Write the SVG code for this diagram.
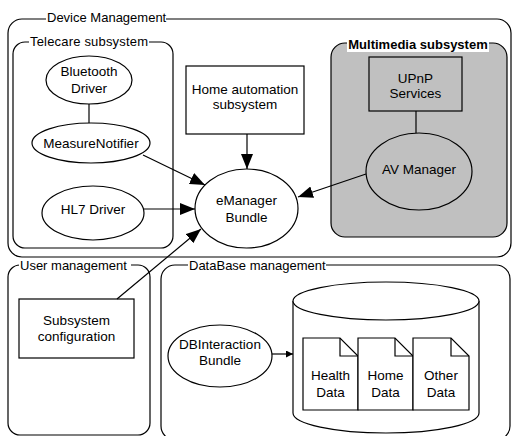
<svg xmlns="http://www.w3.org/2000/svg" width="513" height="436" viewBox="0 0 513 436">
<style>
text{font-family:"Liberation Sans",Arial,sans-serif;font-size:13.5px;fill:#000}
.t{font-size:13px}
.c{text-anchor:middle}
.b{font-weight:bold}
.s{fill:none;stroke:#000;stroke-width:1.2}
.w{fill:#fff;stroke:#000;stroke-width:1.2}
.g{fill:#c0c0c0;stroke:#000;stroke-width:1.2}
.bg{fill:#fff;stroke:none}
.ln{stroke:#000;stroke-width:1.2;fill:none}
</style>
<defs>
<marker id="ah" markerUnits="userSpaceOnUse" markerWidth="16" markerHeight="12" refX="15" refY="6" orient="auto">
<path d="M0,0 L15,6 L0,12 Z" fill="#000"/>
</marker>
<marker id="sm" markerUnits="userSpaceOnUse" markerWidth="8" markerHeight="8" refX="7" refY="3.5" orient="auto">
<path d="M0,0 L7,3.5 L0,7 Z" fill="#000"/>
</marker>
</defs>

<g id="device-management">
<rect class="s" x="8" y="19" width="503" height="238" rx="14"/>
<rect class="bg" x="46" y="11" width="120" height="15"/>
<text class="t" x="47" y="22">Device Management</text>
</g>

<g id="telecare-subsystem">
<rect class="s" x="13" y="42" width="160" height="206" rx="12"/>
<rect class="bg" x="29" y="35" width="120" height="14"/>
<text class="t" x="30" y="46" textLength="118">Telecare subsystem</text>
</g>

<g id="multimedia-subsystem">
<rect class="g" x="331" y="43" width="176" height="194" rx="14"/>
<rect class="bg" x="347" y="37" width="142" height="15"/>
<text class="t b" x="418" y="49" text-anchor="middle">Multimedia subsystem</text>
</g>

<g id="user-management">
<rect class="s" x="8" y="265" width="142" height="170" rx="12"/>
<rect class="bg" x="19" y="259" width="112" height="13"/>
<text class="t" x="20" y="270">User management</text>
</g>

<g id="database-management">
<rect class="s" x="161" y="265" width="349" height="175" rx="14"/>
<rect class="bg" x="188" y="259" width="138" height="13"/>
<text class="t" x="189" y="270">DataBase management</text>
</g>

<g id="bluetooth-driver">
<ellipse class="w" cx="89" cy="80" rx="43" ry="24"/>
<text class="c" x="89" y="76">Bluetooth</text>
<text class="c" x="89" y="93">Driver</text>
</g>

<g id="measure-notifier">
<ellipse class="w" cx="91" cy="143" rx="59" ry="20"/>
<text class="c" x="91" y="148">MeasureNotifier</text>
</g>

<g id="hl7-driver">
<ellipse class="w" cx="93" cy="213" rx="51" ry="27"/>
<text class="c" x="93" y="214">HL7 Driver</text>
</g>

<g id="home-automation">
<rect class="w" x="186" y="66" width="118" height="68"/>
<text class="c" x="245" y="94">Home automation</text>
<text class="c" x="245" y="109">subsystem</text>
</g>

<g id="emanager-bundle">
<ellipse class="w" cx="246.5" cy="208.5" rx="51.5" ry="39.5"/>
<text class="c" x="246.5" y="205">eManager</text>
<text class="c" x="246.5" y="222">Bundle</text>
</g>

<g id="upnp-services">
<rect class="g" x="369" y="57" width="93" height="54"/>
<text class="c" x="415.5" y="83">UPnP</text>
<text class="c" x="415.5" y="98">Services</text>
</g>

<g id="av-manager">
<ellipse class="g" cx="419" cy="171.5" rx="53" ry="38.5"/>
<text class="c" x="419" y="174">AV Manager</text>
</g>

<g id="subsystem-configuration">
<rect class="w" x="19" y="299" width="115" height="59"/>
<text class="c" x="76.5" y="325">Subsystem</text>
<text class="c" x="76.5" y="341">configuration</text>
</g>

<g id="dbinteraction-bundle">
<ellipse class="w" cx="220" cy="356" rx="52" ry="31"/>
<text class="c" x="220" y="349">DBInteraction</text>
<text class="c" x="220" y="365">Bundle</text>
</g>

<g id="database">
<path class="w" d="M293,301 L293,413 A93,20 0 0 0 479,413 L479,301"/>
<ellipse class="w" cx="386" cy="301" rx="93" ry="19"/>
</g>

<g id="health-data">
<path class="w" d="M303,338 L340,338 L358,356 L358,410 L303,410 Z"/>
<path class="ln" d="M340,338 L340,356 L358,356"/>
<text class="c" x="330.5" y="380">Health</text>
<text class="c" x="330.5" y="397">Data</text>
</g>

<g id="home-data">
<path class="w" d="M358,338 L395,338 L413,356 L413,410 L358,410 Z"/>
<path class="ln" d="M395,338 L395,356 L413,356"/>
<text class="c" x="385.5" y="380">Home</text>
<text class="c" x="385.5" y="397">Data</text>
</g>

<g id="other-data">
<path class="w" d="M413,338 L451,338 L469,356 L469,410 L413,410 Z"/>
<path class="ln" d="M451,338 L451,356 L469,356"/>
<text class="c" x="441" y="380">Other</text>
<text class="c" x="441" y="397">Data</text>
</g>

<g id="connectors">
<line class="ln" x1="89" y1="104" x2="89" y2="123"/>
<line class="ln" x1="416" y1="111" x2="416" y2="133"/>
<line class="ln" x1="247" y1="134" x2="247" y2="169" marker-end="url(#ah)"/>
<line class="ln" x1="143" y1="155" x2="205" y2="185" marker-end="url(#ah)"/>
<line class="ln" x1="144" y1="209" x2="195" y2="209" marker-end="url(#ah)"/>
<line class="ln" x1="366" y1="174" x2="298" y2="197" marker-end="url(#ah)"/>
<line class="ln" x1="117" y1="299" x2="201" y2="229" marker-end="url(#ah)"/>
<line class="ln" x1="272" y1="354" x2="293" y2="354" marker-end="url(#sm)"/>
</g>
</svg>
